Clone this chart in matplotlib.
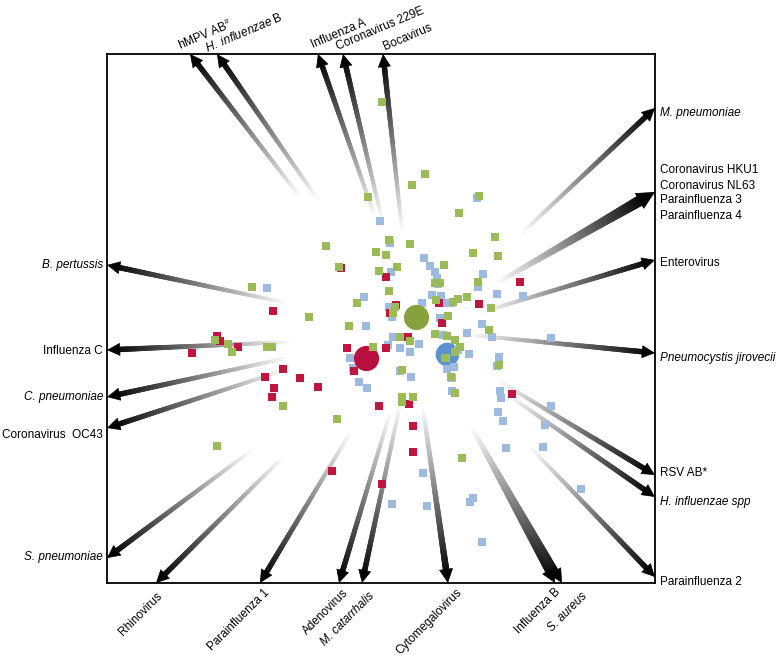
import numpy as np
import matplotlib.pyplot as plt
from matplotlib.collections import LineCollection

plt.rcParams['font.family'] = ['Liberation Sans', 'DejaVu Sans']
plt.rcParams['mathtext.fontset'] = 'custom'
plt.rcParams['mathtext.rm'] = 'Liberation Sans'
plt.rcParams['mathtext.it'] = 'Liberation Sans:italic'

# sample scores per group
green_x = [2, 45, 32, -12, 79, 99, 115, -54, 9, 30, -4, 6, 93, 118, -41, -1, 17, 64, 9, -23,
           15, 13, -71, -31, 55, 60, 98, 87, 78, 73, 111, 109, 68, 55, 67, 75, 80, 75, -7, 20,
           30, 22, 71, 75, 22, 33, 22, 82, 119, -128, -165, -152, -148, -113, -108, -97, -43,
           -163, 65, 56]
green_y = [218, 146, 135, 123, 107, 124, 83, 74, 80, 76, 68, 65, 67, 64, 53, 49, 53, 55, 29, 17,
           13, 7, 3, -6, 37, 37, 38, 23, 21, 18, 12, -10, 4, -14, -16, -20, -27, -32, -27, -17,
           -21, -50, -57, -73, -77, -77, -82, -138, -45, 33, -20, -24, -32, -27, -27, -86, -99,
           -126, -38, 20]

red_x = [-39, 6, 16, 10, 59, 62, 140, 99, -33, 6, 28, -26, -107, -163, -160, -142, -188, -97,
         -115, -80, -62, -106, -108, -1, 29, 33, 33, -48, 2, 132]
red_y = [52, 43, 15, 7, 17, -3, 38, 16, -28, -28, -17, -51, 9, -16, -21, -27, -33, -49,
         -57, -58, -67, -68, -77, -86, -84, -106, -132, -151, -164, -74]

blue_x = [0, 97, 10, 11, -16, -14, 44, 50, 55, 57, 58, 103, 98, 117, 143, 71, 63, 52, 61, 42,
          9, 12, 102, 112, 87, 171, 60, 63, 13, 8, 20, 30, 39, 78, 89, 66, 67, 74, 72, 72,
          31, 20, -30, -27, -21, -13, 119, 117, 120, 121, 118, 123, 171, 165, 126, 163, 201,
          93, 90, 102, 43, 12, 47, -113]
blue_y = [99, 122, 77, 48, 23, -6, 62, 54, 48, 42, 36, 46, 33, 26, 24, 17, 17, 25, 24, 17,
          13, 3, -4, -17, -13, -18, 2, -15, -17, -25, -28, -32, -24, -30, -34, -38, -49, -47,
          -58, -71, -57, -51, -38, -48, -62, -68, -37, -46, -71, -78, -92, -101, -86, -105,
          -128, -127, -169, -178, -182, -222, -153, -184, -186, 32]

# group centroids: green, red, blue
cent_x = [36, -14, 67]
cent_y = [3, -38, -34]

# loading arrows: fade start (x0, y0) -> tip (x1, y1)
arrow_names = ['hMPV AB#', 'H. influenzae B', 'Influenza A', 'Coronavirus 229E', 'Bocavirus',
               'M. pneumoniae', 'Coronavirus HKU1/NL63, Parainfluenza 3/4', 'Enterovirus',
               'Pneumocystis jirovecii', 'RSV AB*', 'H. influenzae spp', 'Parainfluenza 2',
               'Influenza B', 'S. aureus', 'Cytomegalovirus', 'M. catarrhalis', 'Adenovirus',
               'Parainfluenza 1', 'Rhinovirus', 'S. pneumoniae', 'Coronavirus OC43',
               'C. pneumoniae', 'Influenza C', 'B. pertussis']
arrow_x0 = [-80, -62, -5, 2, 22, 142, 117, 102, 90, 117, 128, 150, 92, 92, 43, 20, 10,
            -30, -97, -128, -95, -93, -90, -93]
arrow_y0 = [123, 120, 103, 100, 90, 87, 37, 8, -15, -60, -75, -127, -108, -108, -88, -85, -93,
            -113, -137, -130, -50, -38, -22, 17]
arrow_x1 = [-190, -163, -62, -37, 3, 275, 275, 275, 275, 275, 275, 275, 175, 182, 68, -18, -41,
            -120, -224, -273, -273, -273, -273, -273]
arrow_y1 = [266, 266, 266, 266, 266, 212, 128, 60, -33, -155, -177, -257, -263, -263, -263, -263,
            -263, -263, -263, -238, -108, -77, -30, 55]

fig = plt.figure(figsize=(7.78, 6.55), dpi=100)
ax = fig.add_axes([0.1375, 0.1099, 0.7044, 0.8077])
ax.set_xlim(-273, 275)
ax.set_ylim(-263, 266)
ax.set_xticks([])
ax.set_yticks([])
for s in ax.spines.values():
    s.set_linewidth(1.3)
    s.set_color('black')
    s.set_zorder(6)

# wider shafts where several arrows overlap
thick = {'Coronavirus HKU1/NL63, Parainfluenza 3/4': (4, 11, 17),
         'Influenza B': (4, 7, 13), 'S. aureus': (4, 7, 13), 'Cytomegalovirus': (4, 6.5, 13)}


def grad_arrow(x0, y0, x1, y1, w0=3.5, w1=5.5, head=12):
    dx, dy = x1 - x0, y1 - y0
    L = np.hypot(dx, dy)
    ux, uy = dx / L, dy / L
    n = 90
    t = np.linspace(0, 1, n + 1)
    xe, ye = x1 - ux * head * 0.8, y1 - uy * head * 0.8
    xs = x0 + (xe - x0) * t
    ys = y0 + (ye - y0) * t
    segs = np.stack([np.column_stack([xs[:-1], ys[:-1]]),
                     np.column_stack([xs[1:], ys[1:]])], axis=1)
    tm = (t[:-1] + t[1:]) / 2
    g = 1 - 0.95 * tm
    cols = np.column_stack([g, g, g])
    lw = (w0 + (w1 - w0) * tm) * 0.72
    lc = LineCollection(segs, colors=cols, linewidths=lw, capstyle='round', zorder=1)
    lc.set_clip_on(False)
    ax.add_collection(lc)
    hl = head * 0.72
    hw = head * 0.5 * 0.72
    ax.annotate('', xy=(x1, y1), xytext=(x1 - ux * head * 1.05, y1 - uy * head * 1.05),
                arrowprops=dict(arrowstyle=f'-|>,head_length={hl},head_width={hw}',
                                color='black', lw=0.5, shrinkA=0, shrinkB=0, mutation_scale=1),
                annotation_clip=False, zorder=2)


for name, a, b, c, d in zip(arrow_names, arrow_x0, arrow_y0, arrow_x1, arrow_y1):
    if name in thick:
        w0, w1, hd = thick[name]
        grad_arrow(a, b, c, d, w0, w1, hd)
    else:
        grad_arrow(a, b, c, d)

# points
green = '#9BBB59'
red = '#BE1541'
blue = '#9DBBE0'
ax.scatter([cent_x[2]], [cent_y[2]], s=290, color='#5B93CF', zorder=3, linewidths=0)
ax.scatter(blue_x, blue_y, s=38, marker='s', color=blue, zorder=4, linewidths=0)
ax.scatter([cent_x[1]], [cent_y[1]], s=330, color='#B8103E', zorder=4, linewidths=0)
ax.scatter([cent_x[0]], [cent_y[0]], s=330, color='#86A23F', zorder=4, linewidths=0)
ax.scatter(red_x, red_y, s=38, marker='s', color=red, zorder=5, linewidths=0)
ax.scatter(green_x, green_y, s=38, marker='s', color=green, zorder=5, linewidths=0)

fs = 8.5
kw = dict(fontsize=fs, clip_on=False)

# left labels
ax.text(-277, 55, 'B. pertussis', ha='right', va='center', style='italic', **kw)
ax.text(-277, -31, 'Influenza C', ha='right', va='center', **kw)
ax.text(-277, -77, 'C. pneumoniae', ha='right', va='center', style='italic', **kw)
ax.text(-277, -115, 'Coronavirus  OC43', ha='right', va='center', **kw)
ax.text(-277, -237, 'S. pneumoniae', ha='right', va='center', style='italic', **kw)

# right labels
ax.text(280, 207, 'M. pneumoniae', ha='left', va='center', style='italic', **kw)
ax.text(280, 150, 'Coronavirus HKU1', ha='left', va='center', **kw)
ax.text(280, 134, 'Coronavirus NL63', ha='left', va='center', **kw)
ax.text(280, 120, 'Parainfluenza 3', ha='left', va='center', **kw)
ax.text(280, 104, 'Parainfluenza 4', ha='left', va='center', **kw)
ax.text(280, 57, 'Enterovirus', ha='left', va='center', **kw)
ax.text(280, -38, 'Pneumocystis jirovecii', ha='left', va='center', style='italic', **kw)
ax.text(280, -153, 'RSV AB*', ha='left', va='center', **kw)
ax.text(280, -182, 'H. influenzae spp', ha='left', va='center', style='italic', **kw)
ax.text(280, -262, 'Parainfluenza 2', ha='left', va='center', **kw)

# top labels
top_kw = dict(ha='left', va='baseline', rotation=23, rotation_mode='anchor', **kw)
ax.text(-200, 270, r'hMPV AB$^{\#}$', **top_kw)
ax.text(-173, 268, r'$\it{H.\ influenzae}$ B', **top_kw)
ax.text(-67, 272, 'Influenza A', **top_kw)
ax.text(-42, 270, 'Coronavirus 229E', **top_kw)
ax.text(5, 270, 'Bocavirus', **top_kw)

# bottom labels
bot_kw = dict(ha='right', va='top', rotation=45, rotation_mode='anchor', **kw)
ax.text(-224, -270, 'Rhinovirus', **bot_kw)
ax.text(-116, -267, 'Parainfluenza 1', **bot_kw)
ax.text(-38, -267, 'Adenovirus', **bot_kw)
ax.text(-12, -270, 'M. catarrhalis', style='italic', **bot_kw)
ax.text(76, -266, 'Cytomegalovirus', **bot_kw)
ax.text(174, -266, 'Influenza B', **bot_kw)
ax.text(201, -270, 'S. aureus', style='italic', **bot_kw)

fig.savefig('out.png', dpi=100)
